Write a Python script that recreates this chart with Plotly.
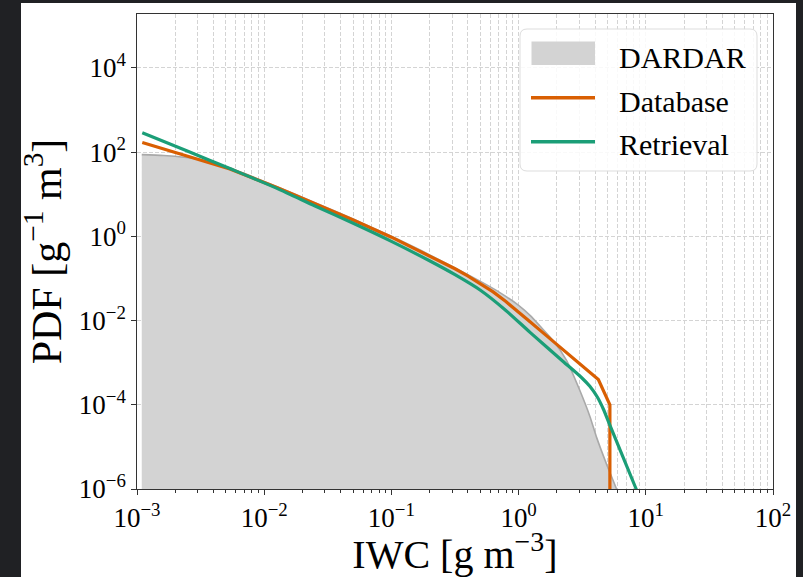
import plotly.graph_objects as go

# Ice water content PDFs: DARDAR reference vs. database and retrieval
dardar_iwc = [1.09e-3, 1.62e-3, 2.95e-3, 5.37e-3, 1.26e-2, 2.51e-2, 5.01e-2, 0.100,
              0.200, 0.501, 0.708, 1.00, 1.242, 1.472, 1.875, 2.388, 3.02, 3.63,
              4.11, 4.93, 5.89, 7.08]
dardar_pdf = [87.1, 83.2, 69.2, 41.7, 15.1, 6.31, 2.57, 1.0,
              0.363, 0.0851, 0.0468, 0.0229, 0.0129, 7.41e-3, 3.31e-3, 1.12e-3, 2.24e-4,
              5.37e-5, 1.66e-5, 3.80e-6, 1.0e-6, 2.51e-7]

database_iwc = [1.10e-3, 2.512e-3, 5.37e-3, 1.259e-2, 2.512e-2, 5.012e-2, 0.100, 0.1995,
                0.3162, 0.3981, 0.5012, 0.631, 0.7943, 1.0, 1.23, 1.585, 2.239, 3.162,
                4.236, 5.22, 5.22]
database_pdf = [170.0, 81.3, 39.8, 14.45, 6.03, 2.455, 0.955, 0.347,
                0.170, 0.1148, 0.0759, 0.0479, 0.0282, 0.0162, 9.33e-3, 4.90e-3, 2.04e-3,
                8.71e-4, 3.98e-4, 1.0e-4, 1e-9]

retrieval_iwc = [1.10e-3, 2.512e-3, 5.37e-3, 1.259e-2, 2.512e-2, 5.012e-2, 0.100, 0.1995,
                 0.3162, 0.5012, 0.7943, 1.23, 2.239, 3.162, 3.631, 4.169, 4.634, 5.248,
                 8.318, 9.12]
retrieval_pdf = [288.0, 104.7, 40.7, 13.8, 5.25, 2.04, 0.759, 0.263,
                 0.123, 0.0525, 0.0174, 5.25e-3, 1.07e-3, 4.27e-4, 2.75e-4, 1.51e-4,
                 7.94e-5, 3.16e-5, 1.07e-6, 5.37e-7]

series_names = ["DARDAR", "Database", "Retrieval"]
series_colors = ["#d3d3d3", "#d95f02", "#1b9e77"]

x_ticks = [1e-3, 1e-2, 1e-1, 1e0, 1e1, 1e2]
x_ticklabels = ["10<sup>−3</sup>", "10<sup>−2</sup>", "10<sup>−1</sup>",
                "10<sup>0</sup>", "10<sup>1</sup>", "10<sup>2</sup>"]
y_ticks = [1e-6, 1e-4, 1e-2, 1e0, 1e2, 1e4]
y_ticklabels = ["10<sup>−6</sup>", "10<sup>−4</sup>", "10<sup>−2</sup>",
                "10<sup>0</sup>", "10<sup>2</sup>", "10<sup>4</sup>"]

FONT = "Liberation Serif"
W, H = 803, 577
ML, MR, MT, MB = 137, 30, 14, 88
PW, PH = W - ML - MR, H - MT - MB


def px(x):
    return (x - ML) / PW


def py(y):
    return (H - MB - y) / PH


fig = go.Figure()

# floor of the shaded DARDAR area, below the visible axis range
fig.add_trace(go.Scatter(
    x=[dardar_iwc[0], dardar_iwc[-1]], y=[1e-9, 1e-9], mode="lines",
    line=dict(width=0), hoverinfo="skip", showlegend=False))
fig.add_trace(go.Scatter(
    x=dardar_iwc, y=dardar_pdf, mode="lines", line_shape="spline",
    fill="tonexty", fillcolor=series_colors[0],
    line=dict(color="#a9a9a9", width=1.6, smoothing=0.6), name=series_names[0],
    showlegend=False))

fig.add_trace(go.Scatter(
    x=database_iwc, y=database_pdf, mode="lines",
    line=dict(color=series_colors[1], width=3.2), name=series_names[1], showlegend=False))
fig.add_trace(go.Scatter(
    x=retrieval_iwc, y=retrieval_pdf, mode="lines", line_shape="spline",
    line=dict(color=series_colors[2], width=3.2, smoothing=0.7), name=series_names[2],
    showlegend=False))

minor_x = [m * 10.0 ** e for e in range(-3, 2) for m in range(2, 10)]
grid_col = "#d4d4d4"
grid_dash = "4px,2px"

fig.update_xaxes(
    type="log", range=[-3, 2], tickmode="array", tickvals=x_ticks, ticktext=x_ticklabels,
    showline=True, linecolor="#333333", linewidth=1.3, mirror=True,
    ticks="outside", ticklen=4.5, tickwidth=1.1, tickcolor="#333333",
    showgrid=True, gridcolor=grid_col, gridwidth=1, griddash=grid_dash,
    minor=dict(tickmode="array", tickvals=minor_x, ticks="outside", ticklen=2.5,
               tickwidth=0.9, tickcolor="#333333", showgrid=True,
               gridcolor=grid_col, gridwidth=1, griddash=grid_dash),
    tickfont=dict(family=FONT, size=27, color="black"),
    title=dict(text="IWC [g m<sup>−3</sup>]", font=dict(family=FONT, size=40, color="black"),
               standoff=0),
    zeroline=False)

fig.update_yaxes(
    type="log", range=[-6, 5.28], tickmode="array", tickvals=y_ticks, ticktext=y_ticklabels,
    showline=True, linecolor="#333333", linewidth=1.3, mirror=True,
    ticks="outside", ticklen=4.5, tickwidth=1.1, tickcolor="#333333",
    showgrid=True, gridcolor=grid_col, gridwidth=1, griddash=grid_dash,
    tickfont=dict(family=FONT, size=27, color="black"),
    title=dict(text="PDF [g<sup>−1</sup> m<sup>3</sup>]", font=dict(family=FONT, size=42, color="black"),
               standoff=4),
    zeroline=False)

shapes = []
# white figure panel over the dark page
shapes.append(dict(type="rect", xref="paper", yref="paper", layer="below",
                   x0=px(21), x1=px(796), y0=py(577), y1=py(3),
                   fillcolor="white", line=dict(width=0)))

# legend frame with rounded corners
lx0, lx1, ly0, ly1, r = 520, 757, 29, 171, 7
rx, ry = r / PW, r / PH
X0, X1, Y0, Y1 = px(lx0), px(lx1), py(ly1), py(ly0)
path = (f"M{X0 + rx},{Y1} L{X1 - rx},{Y1} Q{X1},{Y1} {X1},{Y1 - ry} "
        f"L{X1},{Y0 + ry} Q{X1},{Y0} {X1 - rx},{Y0} L{X0 + rx},{Y0} "
        f"Q{X0},{Y0} {X0},{Y0 + ry} L{X0},{Y1 - ry} Q{X0},{Y1} {X0 + rx},{Y1} Z")
shapes.append(dict(type="path", xref="paper", yref="paper", path=path, layer="above",
                   fillcolor="rgba(255,255,255,0.85)", line=dict(color="#dddddd", width=1)))
# legend keys
shapes.append(dict(type="rect", xref="paper", yref="paper", layer="above",
                   x0=px(531.5), x1=px(595), y0=py(65), y1=py(41.5),
                   fillcolor=series_colors[0], line=dict(width=0)))
shapes.append(dict(type="line", xref="paper", yref="paper", layer="above",
                   x0=px(531), x1=px(595), y0=py(97.7), y1=py(97.7),
                   line=dict(color=series_colors[1], width=3.5)))
shapes.append(dict(type="line", xref="paper", yref="paper", layer="above",
                   x0=px(531), x1=px(595), y0=py(141.7), y1=py(141.7),
                   line=dict(color=series_colors[2], width=3.5)))

annotations = []
for name, yc in zip(series_names, [57, 102, 145]):
    annotations.append(dict(text=name, xref="paper", yref="paper", x=px(617), y=py(yc),
                            xanchor="left", yanchor="middle", showarrow=False,
                            font=dict(family=FONT, size=30, color="black")))

fig.update_layout(
    width=W, height=H, autosize=False,
    margin=dict(l=ML, r=MR, t=MT, b=MB, pad=0),
    paper_bgcolor="#202124", plot_bgcolor="white",
    shapes=shapes, annotations=annotations, showlegend=False)

fig.write_html("out.html")
